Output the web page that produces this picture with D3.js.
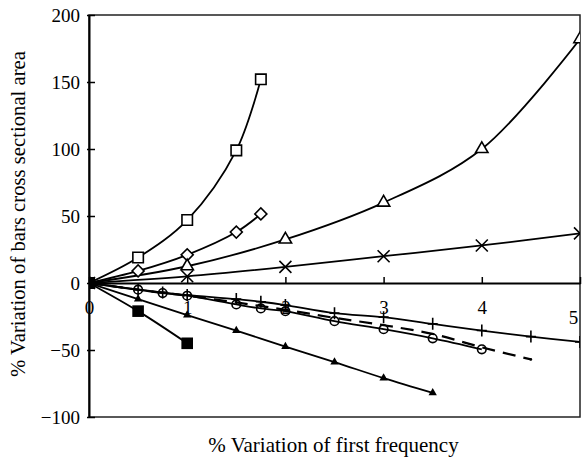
<!DOCTYPE html>
<html lang="en">
  <head>
    <meta charset="utf-8">
    <title>Variation of cross sectional area</title>
    <style>
      body {
        margin: 0;
        background: #fff;
      }
      svg text {
        font-family: "Liberation Serif", "Times New Roman", "DejaVu Serif", serif;
      }
    </style>
  </head>
  <body>
    <div class="graph"></div>

    <script src="https://d3js.org/d3.v7.min.js"></script>
    <script>
      // tick labels
      var xTicks = [0, 1, 2, 3, 4, 5];
      var yTicks = [-100, -50, 0, 50, 100, 150, 200];

      // open squares
      var sqX = [0, 0.5, 1, 1.5, 1.75];
      var sqY = [0, 19, 47, 99, 152];
      // open diamonds
      var dmX = [0, 0.5, 1, 1.5, 1.75];
      var dmY = [0, 9, 21, 38, 51.5];
      // open triangles
      var trX = [0, 1, 2, 3, 4, 5];
      var trY = [0, 12.5, 32.5, 60, 100, 182];
      // crosses
      var crX = [0, 1, 2, 3, 4, 5];
      var crY = [0, 5, 12, 20, 28, 37];
      // plus signs
      var plX = [0, 0.5, 0.75, 1, 1.5, 1.75, 2, 2.5, 3, 3.5, 4, 4.5, 5];
      var plY = [0, -5, -7, -9, -12, -14, -16.5, -22.5, -25.5, -30.5, -35.5, -40, -44];
      // open circles
      var ciX = [0, 0.5, 0.75, 1, 1.5, 1.75, 2, 2.5, 3, 3.5, 4];
      var ciY = [0, -5, -7.5, -9.5, -16, -19, -21, -28.5, -34.5, -41.3, -49.5];
      // dashed line
      var daX = [0, 0.5, 1, 1.5, 2, 2.5, 3, 3.5, 4, 4.5];
      var daY = [0, -5, -9.5, -14.5, -20, -26, -31.5, -38, -48, -57];
      // small filled triangles
      var btX = [0, 0.5, 1, 1.5, 2, 2.5, 3, 3.5];
      var btY = [0, -12, -24, -35.5, -47.5, -59, -71, -82];
      // filled squares
      var bsX = [0, 0.5, 1];
      var bsY = [0, -21, -45];

      var width = 582, height = 461;
      var pL = 89, pR = 580, pT = 15, pB = 417;

      var x = d3.scaleLinear().domain([0, 5]).range([pL, pR]);
      var y = d3.scaleLinear().domain([-100, 200]).range([pB, pT]);

      var svg = d3.select('.graph')
                  .append('svg')
                  .attr('width', width)
                  .attr('height', height);

      svg.append('clipPath').attr('id', 'plot')
         .append('rect')
         .attr('x', pL).attr('y', pT)
         .attr('width', pR - pL).attr('height', pB - pT);

      // frame
      svg.append('rect')
         .attr('x', pL).attr('y', pT)
         .attr('width', pR - pL).attr('height', pB - pT)
         .attr('fill', 'none').attr('stroke', '#222').attr('stroke-width', 1.5);

      // y axis
      var yAxis = svg.append('g')
                     .attr('transform', 'translate(' + pL + ',0)')
                     .call(d3.axisLeft(y).tickValues(yTicks).tickSizeInner(-6).tickSizeOuter(0)
                             .tickFormat(function(d) { return d < 0 ? '\u2212' + (-d) : d; }));
      yAxis.attr('font-family', null);
      yAxis.select('.domain').attr('stroke', '#000').attr('stroke-width', 2);
      yAxis.selectAll('.tick line').attr('stroke', '#000').attr('stroke-width', 1.5)
           .attr('x1', -2);
      yAxis.selectAll('.tick text')
           .attr('x', -9)
           .attr('font-size', 19)
           .attr('fill', '#000');

      // x axis on the zero line
      var xAxis = svg.append('g')
                     .attr('transform', 'translate(0,' + y(0) + ')')
                     .call(d3.axisBottom(x).tickValues(xTicks).tickSizeInner(-6).tickSizeOuter(0)
                             .tickFormat(d3.format('d')));
      xAxis.attr('font-family', null);
      xAxis.select('.domain').attr('stroke', '#000').attr('stroke-width', 2);
      xAxis.selectAll('.tick line').attr('stroke', '#000').attr('stroke-width', 1.5)
           .attr('y1', 1);
      xAxis.selectAll('.tick text')
           .attr('y', 18)
           .attr('font-size', 19)
           .attr('fill', '#000')
           .filter(function(d) { return d === 5; })
           .attr('dx', -7).attr('y', 28);

      var plot = svg.append('g').attr('clip-path', 'url(#plot)');

      function pairs(xs, ys) {
        return xs.map(function(v, i) { return [v, ys[i]]; });
      }

      var line = d3.line()
                   .x(function(d) { return x(d[0]); })
                   .y(function(d) { return y(d[1]); })
                   .curve(d3.curveCatmullRom.alpha(0.5));

      var series = [
        { xs: sqX, ys: sqY, mark: 'square' },
        { xs: dmX, ys: dmY, mark: 'diamond' },
        { xs: trX, ys: trY, mark: 'triangle' },
        { xs: crX, ys: crY, mark: 'times' },
        { xs: plX, ys: plY, mark: 'plus' },
        { xs: daX, ys: daY, mark: 'none', dash: '13,8' },
        { xs: ciX, ys: ciY, mark: 'circle' },
        { xs: btX, ys: btY, mark: 'smalltri' },
        { xs: bsX, ys: bsY, mark: 'fsquare' }
      ];

      series.forEach(function(s) {
        plot.append('path')
            .datum(pairs(s.xs, s.ys))
            .attr('d', line)
            .attr('fill', 'none')
            .attr('stroke', '#000')
            .attr('stroke-width', s.dash ? 2.2 : 1.8)
            .attr('stroke-dasharray', s.dash || null);
      });

      // markers
      series.forEach(function(s) {
        var g = plot.append('g');
        var pts = pairs(s.xs, s.ys);
        var sel = g.selectAll('g').data(pts).enter().append('g')
                   .attr('transform', function(d) { return 'translate(' + x(d[0]) + ',' + y(d[1]) + ')'; });
        if (s.mark === 'square') {
          sel.append('path').attr('d', d3.symbol(d3.symbolSquare, 110))
             .attr('fill', '#fff').attr('stroke', '#000').attr('stroke-width', 1.6);
        } else if (s.mark === 'diamond') {
          sel.append('path').attr('d', d3.symbol(d3.symbolSquare, 72))
             .attr('transform', 'rotate(45)')
             .attr('fill', '#fff').attr('stroke', '#000').attr('stroke-width', 1.6);
        } else if (s.mark === 'triangle') {
          sel.append('path').attr('d', d3.symbol(d3.symbolTriangle, 66))
             .attr('fill', '#fff').attr('stroke', '#000').attr('stroke-width', 1.6);
        } else if (s.mark === 'smalltri') {
          sel.append('path').attr('d', d3.symbol(d3.symbolTriangle, 30))
             .attr('fill', '#000');
        } else if (s.mark === 'fsquare') {
          sel.append('path').attr('d', d3.symbol(d3.symbolSquare, 135))
             .attr('fill', '#000');
        } else if (s.mark === 'circle') {
          sel.append('circle').attr('r', 4.3)
             .attr('fill', 'none').attr('stroke', '#000').attr('stroke-width', 1.6);
        } else if (s.mark === 'times') {
          sel.append('path').attr('d', 'M-6,-6L6,6M-6,6L6,-6')
             .attr('stroke', '#000').attr('stroke-width', 1.6);
        } else if (s.mark === 'plus') {
          sel.append('path').attr('d', 'M-5,0L5,0M0,-6L0,6')
             .attr('stroke', '#000').attr('stroke-width', 1.6);
        }
        if (s.dash) {
          sel.filter(function(d, i) { return i === pts.length - 1; })
             .append('circle').attr('r', 1.3).attr('fill', '#000');
        }
      });

      // axis titles
      svg.append('text')
         .attr('x', (pL + pR) / 2 - 1)
         .attr('y', 452)
         .attr('text-anchor', 'middle')
         .attr('font-size', 21)
         .text('% Variation of first frequency');

      svg.append('text')
         .attr('transform', 'translate(25,214) rotate(-90)')
         .attr('text-anchor', 'middle')
         .attr('font-size', 20.7)
         .text('% Variation of bars cross sectional area');
    </script>
  </body>
</html>
